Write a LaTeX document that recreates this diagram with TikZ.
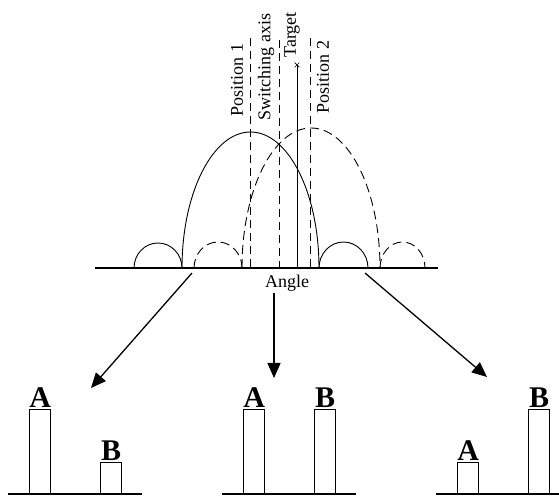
\documentclass[tikz,border=0pt]{standalone}
\usepackage{fontspec}
\setmainfont{Liberation Serif}
\usetikzlibrary{arrows.meta, shapes.misc}

\begin{document}
\begin{tikzpicture}[x=1pt, y=1pt,
  lobe/.style={line width=0.9pt},
  dlobe/.style={line width=0.9pt, dash pattern=on 9pt off 5pt},
  beam/.style={line width=0.8pt, dash pattern=on 8pt off 5pt},
  axislabel/.style={font=\fontsize{18}{18}\selectfont, rotate=90, inner sep=0pt},
  bar/.style={draw, line width=1.4pt, minimum width=21pt, inner sep=0pt, anchor=south west},
  barlabel/.style={font=\fontsize{30}{30}\selectfont\bfseries, anchor=south, inner sep=1pt},
  pointer/.style={-{Triangle[length=15pt, width=13pt]}, line width=1.3pt}]
  \useasboundingbox (0,0) rectangle (559,498);

  % Angle axis
  \draw[line width=1.2pt] (95,230) -- (438,230);
  \node[font=\fontsize{18}{18}\selectfont, inner sep=0pt] (angle) at (287,215) {Angle};

  % Beam at position 1 (solid)
  \draw[lobe] (134,230) arc[start angle=180, end angle=0, x radius=24, y radius=25];
  \draw[lobe] (182,230) arc[start angle=180, end angle=0, x radius=68.5, y radius=136];
  \draw[lobe] (319,230) arc[start angle=180, end angle=0, x radius=24.5, y radius=26];

  % Beam at position 2 (dashed)
  \draw[dlobe] (194,230) arc[start angle=180, end angle=0, x radius=24, y radius=26];
  \draw[dlobe] (242,230) arc[start angle=180, end angle=0, x radius=69, y radius=140];
  \draw[dlobe] (380,230) arc[start angle=180, end angle=0, x radius=22.5, y radius=26];

  % Axes of the two positions, switching axis and target
  \coordinate (p1top) at (250,460);
  \coordinate (p1bot) at (250,230);
  \coordinate (swtop) at (279,458);
  \coordinate (swbot) at (279,230);
  \coordinate (p2top) at (310,460);
  \coordinate (p2bot) at (310,230);
  \coordinate (tgbot) at (297,230);
  \draw[beam] (p1top) -- (p1bot);
  \draw[beam] (swtop) -- (swbot);
  \draw[beam] (p2top) -- (p2bot);
  \node[cross out, draw, line width=0.7pt, inner sep=0pt, minimum size=4pt] (target) at (297,433) {};
  \draw[line width=0.9pt] (target.center) -- (tgbot);

  \node[axislabel] (pos1) at (237,418) {Position 1};
  \node[axislabel] (swax) at (266,431) {Switching axis};
  \node[axislabel] (tgt) at (292,463) {Target};
  \node[axislabel] (pos2) at (323,421) {Position 2};

  % Pointers to the three outputs
  \coordinate (srcL) at (192,225);
  \coordinate (dstL) at (91,110);
  \coordinate (srcM) at (274,205);
  \coordinate (dstM) at (274,120);
  \coordinate (srcR) at (365,225);
  \coordinate (dstR) at (487,121);
  \draw[pointer] (srcL) -- (dstL);
  \draw[pointer] (srcM) -- (dstM);
  \draw[pointer] (srcR) -- (dstR);

  % Outputs A and B
  \foreach \x/\len/\ha/\hb [count=\i] in {8/134/84/31, 222/134/84/84, 436/123/31/84} {
    \draw[line width=1.2pt] (\x,4) -- ++(\len,0);
    \node[bar, minimum height=\ha pt] (a\i) at (\x+21,4) {};
    \node[bar, minimum height=\hb pt] (b\i) at (\x+92,4) {};
    \node[barlabel] (la\i) at (a\i.north) {A};
    \node[barlabel] (lb\i) at (b\i.north) {B};
  }
\end{tikzpicture}
\end{document}
